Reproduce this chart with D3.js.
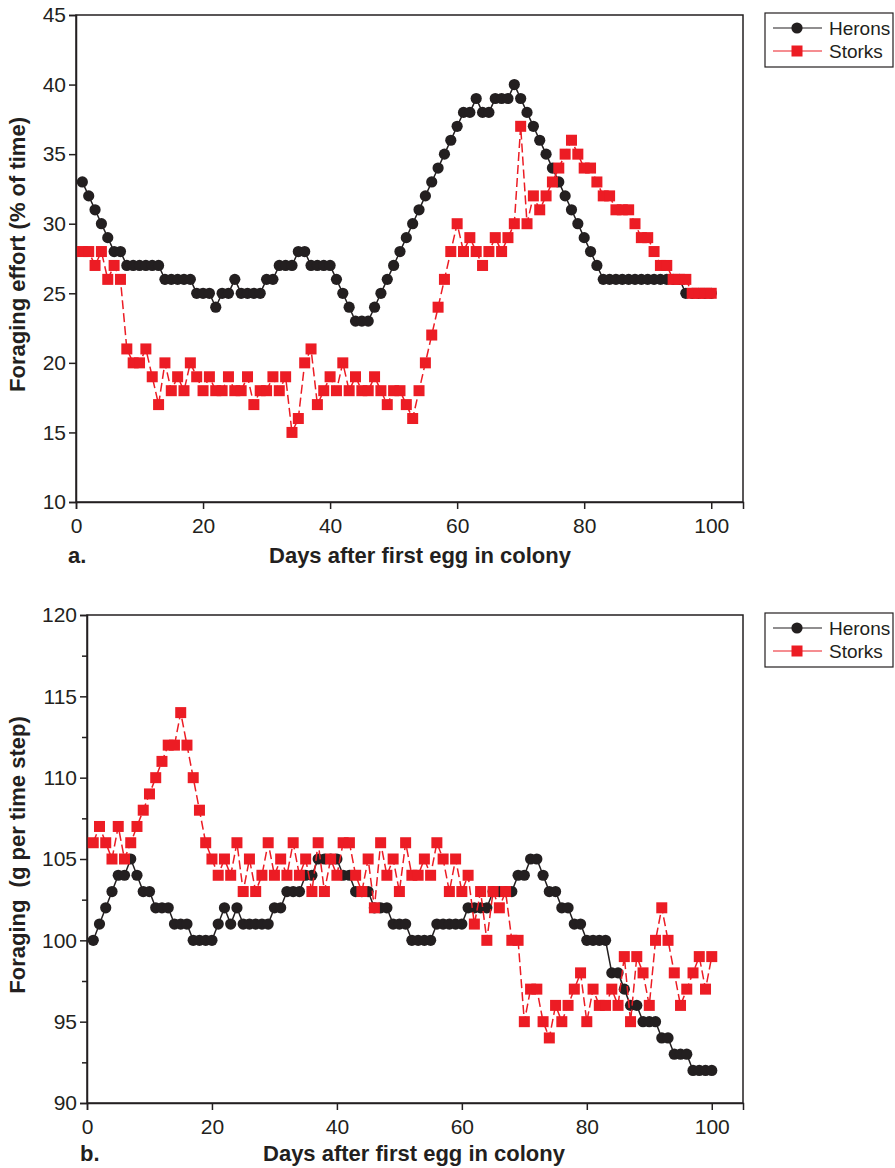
<!DOCTYPE html>
<html>
<head>
<meta charset="utf-8">
<script src="https://cdn.jsdelivr.net/npm/d3@7"></script>
<style>
  body { margin: 0; background: #fff; }
  svg { font-family: "Liberation Sans", Arial, sans-serif; }
</style>
</head>
<body>
<div id="chart"></div>
<script>
const width = 895;
const height = 1168;

// day index for every point
const days = d3.range(1, 101);

// panel a: foraging effort (% of time)
const heronsEffort = [
  33, 32, 31, 30, 29, 28, 28, 27, 27, 27,
  27, 27, 27, 26, 26, 26, 26, 26, 25, 25,
  25, 24, 25, 25, 26, 25, 25, 25, 25, 26,
  26, 27, 27, 27, 28, 28, 27, 27, 27, 27,
  26, 25, 24, 23, 23, 23, 24, 25, 26, 27,
  28, 29, 30, 31, 32, 33, 34, 35, 36, 37,
  38, 38, 39, 38, 38, 39, 39, 39, 40, 39,
  38, 37, 36, 35, 34, 33, 32, 31, 30, 29,
  28, 27, 26, 26, 26, 26, 26, 26, 26, 26,
  26, 26, 26, 26, 26, 25, 25, 25, 25, 25
];
const storksEffort = [
  28, 28, 27, 28, 26, 27, 26, 21, 20, 20,
  21, 19, 17, 20, 18, 19, 18, 20, 19, 18,
  19, 18, 18, 19, 18, 18, 19, 17, 18, 18,
  19, 18, 19, 15, 16, 20, 21, 17, 18, 19,
  18, 20, 18, 19, 18, 18, 19, 18, 17, 18,
  18, 17, 16, 18, 20, 22, 24, 26, 28, 30,
  28, 29, 28, 27, 28, 29, 28, 29, 30, 37,
  30, 32, 31, 32, 33, 34, 35, 36, 35, 34,
  34, 33, 32, 32, 31, 31, 31, 30, 29, 29,
  28, 27, 27, 26, 26, 26, 25, 25, 25, 25
];

// panel b: foraging (g per time step)
const heronsIntake = [
  100, 101, 102, 103, 104, 104, 105, 104, 103, 103,
  102, 102, 102, 101, 101, 101, 100, 100, 100, 100,
  101, 102, 101, 102, 101, 101, 101, 101, 101, 102,
  102, 103, 103, 103, 104, 104, 105, 105, 105, 105,
  104, 104, 103, 103, 103, 102, 102, 102, 101, 101,
  101, 100, 100, 100, 100, 101, 101, 101, 101, 101,
  102, 102, 102, 102, 103, 103, 103, 103, 104, 104,
  105, 105, 104, 103, 103, 102, 102, 101, 101, 100,
  100, 100, 100, 98, 98, 97, 96, 96, 95, 95,
  95, 94, 94, 93, 93, 93, 92, 92, 92, 92
];
const storksIntake = [
  106, 107, 106, 105, 107, 105, 106, 107, 108, 109,
  110, 111, 112, 112, 114, 112, 110, 108, 106, 105,
  104, 105, 104, 106, 103, 105, 103, 104, 106, 104,
  105, 104, 106, 104, 105, 103, 106, 103, 105, 104,
  106, 106, 104, 103, 105, 102, 106, 104, 105, 103,
  106, 104, 104, 105, 104, 106, 105, 103, 105, 103,
  104, 101, 103, 100, 103, 102, 103, 100, 100, 95,
  97, 97, 95, 94, 96, 95, 96, 97, 98, 95,
  97, 96, 96, 97, 96, 99, 95, 99, 98, 96,
  100, 102, 100, 98, 96, 97, 98, 99, 97, 99
];

const xTicks = [0, 20, 40, 60, 80, 100];
const seriesNames = ["Herons", "Storks"];

const black = "#231f20";
const red = "#ec1c24";

const svg = d3.select("#chart")
  .append("svg")
  .attr("width", width)
  .attr("height", height);

drawPanel({
  top: 15, bottom: 502, left: 76, right: 743,
  yDomain: [10, 45], yTicks: d3.range(10, 46, 5), yMinor: [],
  herons: heronsEffort, storks: storksEffort,
  yTitle: "Foraging effort (% of time)", letter: "a.",
  xTitleX: 420, titleY: 563, letterX: 68, legendY: 13
});

drawPanel({
  top: 615, bottom: 1103, left: 87, right: 743,
  yDomain: [90, 120], yTicks: d3.range(90, 121, 5), yMinor: d3.range(92.5, 120, 5),
  herons: heronsIntake, storks: storksIntake,
  yTitle: "Foraging\u00a0 (g per time step)", letter: "b.",
  xTitleX: 414, titleY: 1161, letterX: 80, legendY: 613
});

function drawPanel(p) {
  const g = svg.append("g");

  const x = d3.scaleLinear()
    .domain([0, 105])
    .range([p.left, p.right]);

  const y = d3.scaleLinear()
    .domain(p.yDomain)
    .range([p.bottom, p.top]);

  // frame
  g.append("rect")
    .attr("x", p.left)
    .attr("y", p.top)
    .attr("width", p.right - p.left)
    .attr("height", p.bottom - p.top)
    .attr("fill", "none")
    .attr("stroke", black)
    .attr("stroke-width", 1.5);

  const xAxis = g.append("g")
    .attr("transform", `translate(0,${p.bottom})`)
    .call(d3.axisBottom(x).tickValues(xTicks).tickSize(7).tickPadding(9));

  const yAxis = g.append("g")
    .attr("transform", `translate(${p.left},0)`)
    .call(d3.axisLeft(y).tickValues(p.yTicks).tickSize(7).tickPadding(3));

  g.append("g")
    .attr("transform", `translate(${p.left},0)`)
    .call(d3.axisLeft(y).tickValues(p.yMinor).tickSize(5).tickFormat(""))
    .call(a => a.select(".domain").remove());

  [xAxis, yAxis].forEach(a => {
    a.select(".domain").attr("stroke", black).attr("stroke-width", 1.5);
    a.selectAll(".tick text")
      .attr("fill", black)
      .style("font-size", "21px");
  });
  g.selectAll(".tick line").attr("stroke", black).attr("stroke-width", 1.5);

  // axis titles
  g.append("text")
    .attr("x", p.xTitleX)
    .attr("y", p.titleY)
    .attr("text-anchor", "middle")
    .style("font-size", "22px")
    .style("font-weight", "bold")
    .attr("fill", black)
    .text("Days after first egg in colony");

  g.append("text")
    .attr("x", p.letterX)
    .attr("y", p.titleY)
    .style("font-size", "22px")
    .style("font-weight", "bold")
    .attr("fill", black)
    .text(p.letter);

  g.append("text")
    .attr("transform", `translate(25,${(p.top + p.bottom) / 2 - 4}) rotate(-90)`)
    .attr("text-anchor", "middle")
    .style("font-size", "22px")
    .style("font-weight", "bold")
    .attr("fill", black)
    .text(p.yTitle);

  const heronPts = days.map((d, i) => ({ day: d, v: p.herons[i] }));
  const storkPts = days.map((d, i) => ({ day: d, v: p.storks[i] }));

  const line = d3.line()
    .x(d => x(d.day))
    .y(d => y(d.v));

  g.append("path")
    .datum(heronPts)
    .attr("d", line)
    .attr("fill", "none")
    .attr("stroke", black)
    .attr("stroke-width", 1.5);

  g.selectAll(".heron")
    .data(heronPts)
    .enter()
    .append("circle")
    .attr("class", "heron")
    .attr("cx", d => x(d.day))
    .attr("cy", d => y(d.v))
    .attr("r", 5.6)
    .attr("fill", black);

  g.append("path")
    .datum(storkPts)
    .attr("d", line)
    .attr("fill", "none")
    .attr("stroke", red)
    .attr("stroke-width", 1.5)
    .attr("stroke-dasharray", "9,4");

  const s = 11;
  g.selectAll(".stork")
    .data(storkPts)
    .enter()
    .append("rect")
    .attr("class", "stork")
    .attr("x", d => x(d.day) - s / 2)
    .attr("y", d => y(d.v) - s / 2)
    .attr("width", s)
    .attr("height", s)
    .attr("fill", red);

  // legend
  const lg = g.append("g").attr("transform", `translate(765,${p.legendY})`);
  lg.append("rect")
    .attr("width", 128)
    .attr("height", 54)
    .attr("fill", "#fff")
    .attr("stroke", black)
    .attr("stroke-width", 1.2);

  seriesNames.forEach((name, i) => {
    const ly = 15 + i * 23;
    const col = i === 0 ? black : red;
    lg.append("line")
      .attr("x1", 8).attr("x2", 57)
      .attr("y1", ly).attr("y2", ly)
      .attr("stroke", col)
      .attr("stroke-width", 1.2);
    if (i === 0) {
      lg.append("circle").attr("cx", 32).attr("cy", ly).attr("r", 5.6).attr("fill", col);
    } else {
      lg.append("rect").attr("x", 32 - s / 2).attr("y", ly - s / 2)
        .attr("width", s).attr("height", s).attr("fill", col);
    }
    lg.append("text")
      .attr("x", 64)
      .attr("y", ly)
      .attr("dy", "0.35em")
      .style("font-size", "19px")
      .attr("fill", black)
      .text(name);
  });
}
</script>
</body>
</html>
